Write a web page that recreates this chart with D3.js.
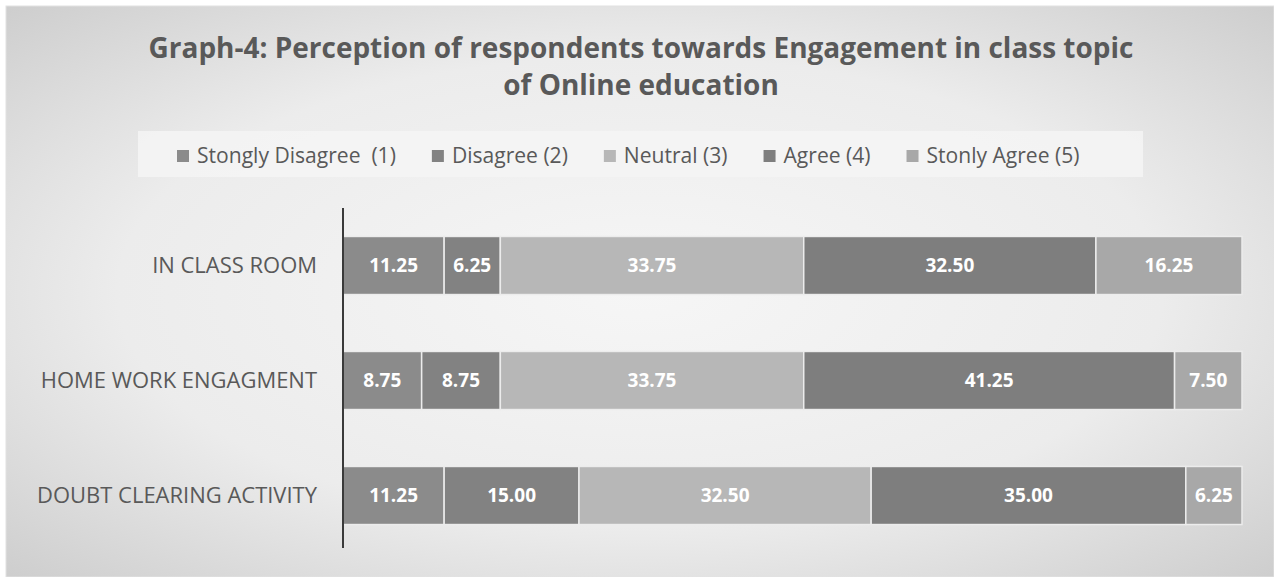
<!DOCTYPE html>
<html><head><meta charset="utf-8">
<script src="https://cdn.jsdelivr.net/npm/d3@7"></script>
<style>body{margin:0;background:#fff;}svg{display:block;}</style>
</head><body>
<svg id="c" width="1274" height="577"></svg>
<script>
const categories = ["IN CLASS ROOM", "HOME WORK ENGAGMENT", "DOUBT CLEARING ACTIVITY"];
const seriesNames = ["Stongly Disagree  (1)", "Disagree (2)", "Neutral (3)", "Agree (4)", "Stonly Agree (5)"];
const stronglyDisagree = [11.25, 8.75, 11.25];
const disagree = [6.25, 8.75, 15.00];
const neutral = [33.75, 33.75, 32.50];
const agree = [32.50, 41.25, 35.00];
const stronglyAgree = [16.25, 7.50, 6.25];
const seriesColors = ["#8b8b8b", "#828282", "#b7b7b7", "#7e7e7e", "#a8a8a8"];
const titleLines = ["Graph-4: Perception of respondents towards Engagement in class topic", "of Online education"];

const series = [stronglyDisagree, disagree, neutral, agree, stronglyAgree];
const font = "'Open Sans', sans-serif";
const svg = d3.select("#c");
const defs = svg.append("defs");
const rg = defs.append("radialGradient").attr("id","bg").attr("cx","50%").attr("cy","50%").attr("r","75%");
rg.append("stop").attr("offset","0%").attr("stop-color","#f6f6f6");
rg.append("stop").attr("offset","55%").attr("stop-color","#ececec");
rg.append("stop").attr("offset","100%").attr("stop-color","#c9c9c9");
svg.append("rect").attr("x",6).attr("y",6).attr("width",1268).attr("height",571)
  .attr("fill","url(#bg)").attr("stroke","#e2e2e2").attr("stroke-width",1);

// title
const tg = svg.append("g").attr("font-family",font).attr("font-weight","bold").attr("fill","#595959").attr("text-anchor","middle");
const t1 = tg.append("text").attr("x",641).attr("y",58).text(titleLines[0]).attr("font-size",26);
const w1 = t1.node().getComputedTextLength();
const tfs = 26*985/w1;
t1.attr("font-size",tfs);
tg.append("text").attr("x",641).attr("y",95).attr("font-size",tfs).text(titleLines[1]);

// legend
svg.append("rect").attr("x",138).attr("y",131).attr("width",1005).attr("height",46).attr("fill","#f5f5f5").attr("opacity",0.85);
const lg = svg.append("g").attr("font-family",font).attr("fill","#595959");
const items = lg.selectAll("g").data(seriesNames).join("g");
items.append("rect").attr("width",12).attr("height",12).attr("y",150).attr("fill",(d,i)=>seriesColors[i]);
const ltexts = items.append("text").attr("y",163).text(d=>d).style("white-space","pre").attr("font-size",20);
const gapMT = 8, gapItem = 36;
let tw = 0; ltexts.each(function(){ tw += this.getComputedTextLength(); });
const targetTW = 903 - 5*(12+gapMT) - 4*gapItem;
ltexts.attr("font-size", 20*targetTW/tw);
let widths = [];
ltexts.each(function(){ widths.push(this.getComputedTextLength()); });
let cx = 177;
items.each(function(d,i){
  const g = d3.select(this);
  g.select("rect").attr("x",cx);
  g.select("text").attr("x",cx+12+gapMT);
  cx += 12+gapMT+widths[i]+gapItem;
});

// scales
const x = d3.scaleLinear().domain([0,100]).range([343,1242]);
const y = d3.scaleBand().domain(categories).range([208,553]).paddingInner(0.495).paddingOuter(0.2475);

const stackData = categories.map((c,ci)=>{ const o={cat:c}; series.forEach((s,si)=>o[si]=s[ci]); return o; });
const stack = d3.stack().keys(series.map((s,i)=>i))(stackData);

const bars = svg.append("g");
stack.forEach((layer,si)=>{
  const g = bars.append("g");
  g.selectAll("rect").data(layer).join("rect")
    .attr("x",d=>x(d[0])).attr("width",d=>x(d[1])-x(d[0]))
    .attr("y",d=>y(d.data.cat)).attr("height",y.bandwidth())
    .attr("fill",seriesColors[si]).attr("stroke","#ececec").attr("stroke-width",1.5);
  g.selectAll("text").data(layer).join("text")
    .attr("x",d=>(x(d[0])+x(d[1]))/2).attr("y",d=>y(d.data.cat)+y.bandwidth()/2)
    .attr("dy","0.36em").attr("text-anchor","middle")
    .attr("font-family",font).attr("font-weight","bold").attr("font-size",19).attr("fill","#fff")
    .text(d=>d3.format(".2f")(d[1]-d[0]));
});

// y axis
const ya = svg.append("g").attr("transform","translate(343,0)")
  .call(d3.axisLeft(y).tickSize(0).tickPadding(26));
ya.select(".domain").attr("stroke","#3a3a3a").attr("stroke-width",2).attr("d","M0,208V548");
const ytexts = ya.selectAll("text").attr("font-family",font).attr("font-size",20).attr("fill","#595959");
let maxW = 0; ytexts.each(function(){ maxW = Math.max(maxW, this.getComputedTextLength()); });
ytexts.attr("font-size", 20*280/maxW).attr("dy","0.36em");
</script>
</body></html>
